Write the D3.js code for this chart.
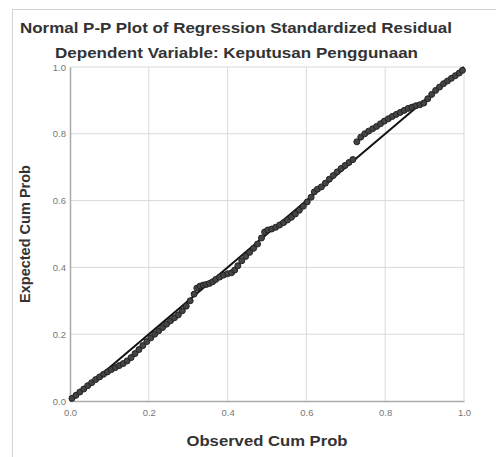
<!DOCTYPE html>
<html>
<head>
<meta charset="utf-8">
<script src="https://cdn.jsdelivr.net/npm/d3@7"></script>
<style>
  body { margin: 0; background: #fff; }
  svg { font-family: "Liberation Sans", Arial, sans-serif; }
</style>
</head>
<body>
<div id="graf"></div>
<script>
// Datos (observed vs expected cum prob)
const observed = [
  0.005, 0.015, 0.025, 0.035, 0.045, 0.055, 0.065, 0.075, 0.085, 0.095,
  0.105, 0.115, 0.125, 0.135, 0.145, 0.155, 0.165, 0.175, 0.185, 0.195,
  0.205, 0.215, 0.225, 0.235, 0.245, 0.255, 0.265, 0.275, 0.285, 0.295,
  0.305, 0.315, 0.322, 0.330, 0.338, 0.346, 0.354, 0.362, 0.370, 0.380,
  0.390, 0.400, 0.410, 0.418, 0.426, 0.436, 0.446, 0.456, 0.466, 0.476,
  0.486, 0.494, 0.502, 0.512, 0.522, 0.532, 0.542, 0.552, 0.562, 0.572,
  0.582, 0.592, 0.602, 0.612, 0.620, 0.628, 0.638, 0.648, 0.658, 0.668,
  0.678, 0.688, 0.698, 0.708, 0.718, 0.728, 0.738, 0.748, 0.758, 0.768,
  0.778, 0.788, 0.798, 0.808, 0.818, 0.828, 0.838, 0.848, 0.858, 0.868,
  0.878, 0.888, 0.898, 0.908, 0.918, 0.928, 0.938, 0.948, 0.958, 0.968,
  0.978, 0.988, 0.996
]
const expected = [
  0.008, 0.017, 0.027, 0.036, 0.046, 0.055, 0.064, 0.072, 0.080, 0.087,
  0.094, 0.100, 0.106, 0.112, 0.120, 0.130, 0.142, 0.154, 0.166, 0.178,
  0.189, 0.200, 0.210, 0.220, 0.230, 0.240, 0.249, 0.258, 0.270, 0.284,
  0.300, 0.320, 0.338, 0.344, 0.347, 0.349, 0.352, 0.357, 0.364, 0.371,
  0.377, 0.381, 0.384, 0.392, 0.405, 0.420, 0.433, 0.445, 0.457, 0.470,
  0.488, 0.506, 0.512, 0.515, 0.520, 0.527, 0.534, 0.542, 0.550, 0.560,
  0.571, 0.583, 0.596, 0.610, 0.626, 0.634, 0.641, 0.652, 0.664, 0.675,
  0.686, 0.696, 0.705, 0.714, 0.723, 0.776, 0.790, 0.800, 0.808, 0.815,
  0.822, 0.830, 0.838, 0.845, 0.852, 0.858, 0.864, 0.870, 0.876, 0.880,
  0.884, 0.887, 0.892, 0.905, 0.918, 0.930, 0.940, 0.950, 0.958, 0.966,
  0.974, 0.982, 0.990
]
const tickValues = [0.0, 0.2, 0.4, 0.6, 0.8, 1.0]
const titulo = "Normal P-P Plot of Regression Standardized Residual"
const subtitulo = "Dependent Variable: Keputusan Penggunaan"
const xLabel = "Observed Cum Prob"
const yLabel = "Expected Cum Prob"

const anchoTotal = 496
const altoTotal = 457
const margins = { top: 67, right: 32, bottom: 56, left: 70 }
const ancho = anchoTotal - margins.left - margins.right
const alto = altoTotal - margins.top - margins.bottom

const svg = d3.select("#graf")
  .append("svg")
  .attr("width", anchoTotal)
  .attr("height", altoTotal)

// marco exterior
svg.append("rect")
  .attr("x", 12.5).attr("y", 9.5)
  .attr("width", anchoTotal).attr("height", altoTotal)
  .attr("fill", "none")
  .attr("stroke", "#d4d4d4")

svg.append("text")
  .attr("x", 20).attr("y", 33)
  .attr("textLength", 432).attr("lengthAdjust", "spacingAndGlyphs")
  .attr("font-size", 15).attr("font-weight", "bold")
  .attr("fill", "#333")
  .text(titulo)

svg.append("text")
  .attr("x", 55).attr("y", 58)
  .attr("textLength", 363).attr("lengthAdjust", "spacingAndGlyphs")
  .attr("font-size", 15).attr("font-weight", "bold")
  .attr("fill", "#333")
  .text(subtitulo)

const g = svg.append("g")
  .attr("transform", `translate(${margins.left}, ${margins.top})`)

const x = d3.scaleLinear().domain([0, 1]).range([0, ancho])
const y = d3.scaleLinear().domain([0, 1]).range([alto, 0])

// rejilla
g.append("g")
  .selectAll("line")
  .data(tickValues.slice(1))
  .join("line")
  .attr("x1", (d) => x(d)).attr("x2", (d) => x(d))
  .attr("y1", 0).attr("y2", alto)
  .attr("stroke", "#d9d9d9")
g.append("g")
  .selectAll("line")
  .data(tickValues.slice(1))
  .join("line")
  .attr("x1", 0).attr("x2", ancho)
  .attr("y1", (d) => y(d)).attr("y2", (d) => y(d))
  .attr("stroke", "#d9d9d9")

const xAxis = d3.axisBottom(x).tickValues(tickValues).tickFormat(d3.format(".1f")).tickSize(0).tickPadding(8)
const yAxis = d3.axisLeft(y).tickValues(tickValues).tickFormat(d3.format(".1f")).tickSize(0).tickPadding(4)

const xAxisGroup = g.append("g")
  .attr("transform", `translate(0, ${alto})`)
  .call(xAxis)
const yAxisGroup = g.append("g").call(yAxis)

;[xAxisGroup, yAxisGroup].forEach((ax) => {
  ax.select(".domain").attr("stroke", "#aaa").attr("stroke-width", 1.5)
  ax.selectAll("text").attr("font-size", 9.5).attr("fill", "#777")
    .attr("font-family", "Liberation Sans, Arial, sans-serif")
})

// linea de referencia
g.append("line")
  .attr("x1", x(0)).attr("y1", y(0))
  .attr("x2", x(1)).attr("y2", y(1))
  .attr("stroke", "#111")
  .attr("stroke-width", 2)

// puntos
const data = observed.map((d, i) => ({ obs: d, exp: expected[i] }))
g.append("g")
  .selectAll("circle")
  .data(data)
  .join("circle")
  .attr("cx", (d) => x(d.obs))
  .attr("cy", (d) => y(d.exp))
  .attr("r", 3)
  .attr("fill", "#444")
  .attr("stroke", "#222")
  .attr("stroke-width", 1)

svg.append("text")
  .attr("x", 267).attr("y", 446)
  .attr("text-anchor", "middle")
  .attr("textLength", 161).attr("lengthAdjust", "spacingAndGlyphs")
  .attr("font-size", 15.5).attr("font-weight", "bold")
  .attr("fill", "#333")
  .text(xLabel)

svg.append("text")
  .attr("transform", "translate(30, 234) rotate(-90)")
  .attr("text-anchor", "middle")
  .attr("textLength", 138).attr("lengthAdjust", "spacingAndGlyphs")
  .attr("font-size", 14).attr("font-weight", "bold")
  .attr("fill", "#333")
  .text(yLabel)
</script>
</body>
</html>
